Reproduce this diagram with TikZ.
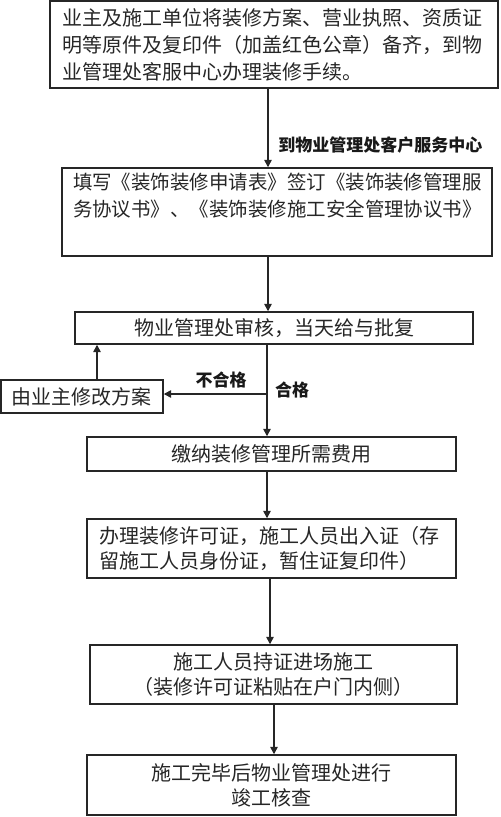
\documentclass[tikz,border=0pt]{standalone}
\usepackage{fontspec}
\newfontfamily\cjk{Noto Sans CJK SC}
\usetikzlibrary{arrows.meta}
\begin{document}
\begin{tikzpicture}[x=0.75pt,y=-0.75pt,
  box/.style={draw=black!85,line width=1.1pt,text=black!85,inner ysep=0pt,
    font=\cjk\fontsize{15}{20.25}\selectfont},
  cbox/.style={box,align=center,inner xsep=0pt},
  lbl/.style={text=black!90,inner sep=0pt,font=\cjk\bfseries\fontsize{12.75}{15}\selectfont},
  arr/.style={draw=black!85,line width=1.1pt,-{Triangle[length=5.5pt,width=5.5pt]}}]
\useasboundingbox (0,0) rectangle (500,817);
% boxes
\node[box,align=left,text width=318pt,inner xsep=9pt,minimum height=65.25pt] (b1) at (274,44.5)
 {业主及施工单位将装修方案、营业执照、资质证\\明等原件及复印件（加盖红色公章）备齐，到物\\业管理处客服中心办理装修手续。};
\node[box,align=left,text width=306pt,inner xsep=8.25pt,minimum height=66pt,
  font=\cjk\fontsize{14.6}{20.25}\selectfont] (b2) at (277,212)
 {填写《装饰装修申请表》签订《装饰装修管理服\\务协议书》、《装饰装修施工安全管理协议书》\\\strut};
\node[cbox,minimum width=298.5pt,minimum height=24pt] (b3) at (274,328)
 {物业管理处审核，当天给与批复};
\node[cbox,minimum width=121.5pt,minimum height=24.75pt] (bL) at (82,396.5)
 {由业主修改方案};
\node[cbox,minimum width=276.75pt,minimum height=25.5pt] (b4) at (271.5,454)
 {缴纳装修管理所需费用};
\node[box,align=left,text width=258.75pt,inner xsep=9pt,minimum height=44.25pt,
  font=\cjk\fontsize{15}{18.75}\selectfont] (b5) at (271.5,548.5)
 {办理装修许可证，施工人员出入证（存\\留施工人员身份证，暂住证复印件）};
\node[cbox,minimum width=275.25pt,minimum height=44.25pt,
  font=\cjk\fontsize{15}{18.75}\selectfont] (b6) at (273.5,674.5)
 {施工人员持证进场施工\\（装修许可证粘贴在户门内侧）};
\node[cbox,minimum width=276.75pt,minimum height=45pt,
  font=\cjk\fontsize{15}{18.75}\selectfont] (b7) at (271.5,785)
 {施工完毕后物业管理处进行\\竣工核查};
% labels
\node[lbl,anchor=west] (l1) at (278,145) {到物业管理处客户服务中心};
\node[lbl] (l2) at (221,380) {不合格};
\node[lbl] (l3) at (292,390) {合格};
% connectors
\draw[arr] (b1.south -| 268,0) -- (b2.north -| 268,0);
\draw[arr] (b2.south -| 268,0) -- (b3.north -| 268,0);
\draw[arr] (b3.south -| 267,0) -- (b4.north -| 267,0);
\coordinate (br) at (267,394);
\draw[arr] (br) -- (bL.east |- br);
\draw[arr] (bL.north -| 97,0) -- (b3.south -| 97,0);
\draw[arr] (b4.south -| 267,0) -- (b5.north -| 267,0);
\draw[arr] (b5.south -| 270,0) -- (b6.north -| 270,0);
\draw[arr] (b6.south -| 274,0) -- (b7.north -| 274,0);
\end{tikzpicture}
\end{document}
